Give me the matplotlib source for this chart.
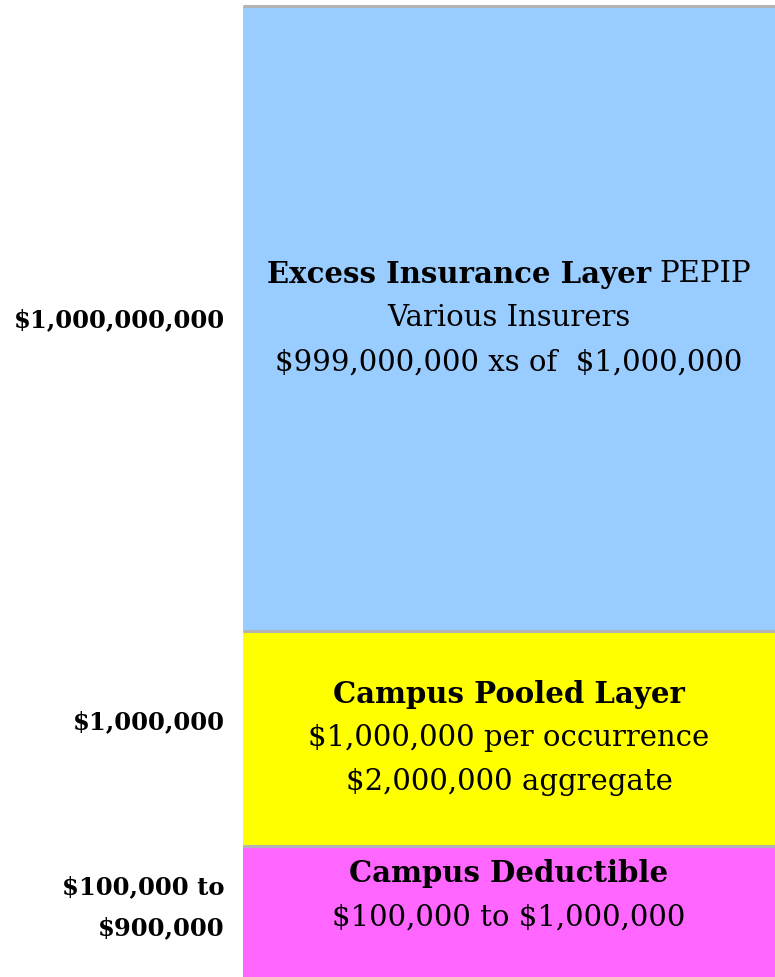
import matplotlib
matplotlib.use("Agg")
import matplotlib.pyplot as plt

# layers from bottom to top
layer_names = ["Campus Deductible", "Campus Pooled Layer", "Excess Insurance Layer"]
layer_extra = ["", "", "PEPIP"]
layer_lines = [
    ["$100,000 to $1,000,000"],
    ["$1,000,000 per occurrence", "$2,000,000 aggregate"],
    ["Various Insurers", "$999,000,000 xs of  $1,000,000"],
]
limit_labels = ["$100,000 to\n$900,000", "$1,000,000", "$1,000,000,000"]
layer_colors = ["#ff66ff", "#ffff00", "#99ccff"]
# display heights of the layers (not to scale)
layer_heights = [131, 215, 625]

W, H = 775, 977
fig = plt.figure(figsize=(W / 100, H / 100), dpi=100)
ax = fig.add_axes([0, 0, 1, 1])
ax.set_xlim(0, W)
ax.set_ylim(0, H)
ax.axis("off")

box_left, box_right = 243, W
serif = "DejaVu Serif"
fs = 21

bottom = 0
bottoms = []
for h, c in zip(layer_heights, layer_colors):
    ax.bar((box_left + box_right) / 2, h, width=box_right - box_left, bottom=bottom,
           color=c, edgecolor="none")
    bottoms.append(bottom)
    bottom += h
# grey separators at the top of each layer
for b, h in zip(bottoms, layer_heights):
    ax.plot([box_left, box_right], [b + h, b + h], color="#b3b3b3", lw=2.2,
            solid_capstyle="butt")

fig.canvas.draw()
renderer = fig.canvas.get_renderer()
cx = (box_left + box_right) / 2
line_gap = 44

for i, (name, extra, lines) in enumerate(zip(layer_names, layer_extra, layer_lines)):
    b, h = bottoms[i], layer_heights[i]
    n = 1 + len(lines)
    mid = b + h / 2
    if i == 0:
        mid = b + h / 2 + 16
    top_y = mid + (n - 1) * line_gap / 2
    if extra:
        t1 = ax.text(0, top_y, name, fontsize=fs, fontweight="bold", family=serif,
                     va="center", ha="left", parse_math=False)
        t2 = ax.text(0, top_y, extra, fontsize=fs, family=serif, va="center",
                     ha="left", parse_math=False)
        w1 = t1.get_window_extent(renderer).width
        w2 = t2.get_window_extent(renderer).width
        sp = 9
        x0 = cx - (w1 + sp + w2) / 2
        t1.set_x(x0)
        t2.set_x(x0 + w1 + sp)
    else:
        ax.text(cx, top_y, name, fontsize=fs, fontweight="bold", family=serif,
                va="center", ha="center", parse_math=False)
    for j, ln in enumerate(lines):
        ax.text(cx, top_y - (j + 1) * line_gap, ln, fontsize=fs, family=serif,
                va="center", ha="center", parse_math=False)

# limits on the left
label_y = [69, 255, 657]
for lab, y in zip(limit_labels, label_y):
    ax.text(225, y, lab, fontsize=17.5, fontweight="bold", family=serif,
            ha="right", va="center", linespacing=1.9, parse_math=False)

fig.savefig("out.png", dpi=100)
